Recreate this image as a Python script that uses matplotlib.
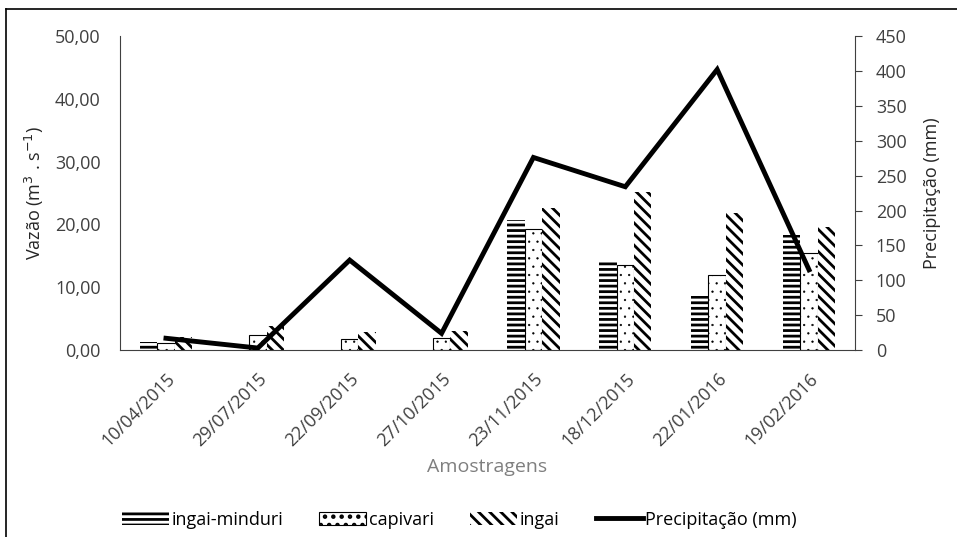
import numpy as np
import matplotlib
matplotlib.use("Agg")
from matplotlib import pyplot as plt
from matplotlib.lines import Line2D

datas = ['10/04/2015', '29/07/2015', '22/09/2015', '27/10/2015',
         '23/11/2015', '18/12/2015', '22/01/2016', '19/02/2016']
ingai_minduri = [1.3, 0.1, 0.2, 0.2, 20.7, 14.2, 8.6, 18.3]
capivari = [1.1, 2.4, 1.8, 2.0, 19.3, 13.6, 12.0, 15.5]
ingai = [2.1, 3.8, 2.9, 3.1, 22.6, 25.2, 21.8, 19.6]
precipitacao = [17, 3, 129, 24, 276, 234, 402, 115]

plt.rcParams['font.family'] = ['Open Sans', 'DejaVu Sans']
plt.rcParams['font.size'] = 13

fig = plt.figure(figsize=(9.57, 5.37), dpi=100)
ax = fig.add_axes([0.1254, 0.348, 0.768, 0.585])
ax2 = ax.twinx()

estilos = {
    'ingai-minduri': dict(hatch='---', linewidth=0, hlw=2.0),
    'capivari': dict(hatch='..', linewidth=0.8, hlw=0.4),
    'ingai': dict(hatch='\\\\\\', linewidth=0, hlw=2.0),
}

x = np.arange(len(datas))
w = 0.19
series = [('ingai-minduri', ingai_minduri, -w), ('capivari', capivari, 0), ('ingai', ingai, w)]
handles = []
for nome, vals, off in series:
    st = estilos[nome]
    with plt.rc_context({'hatch.linewidth': st['hlw']}):
        ax.bar(x + off, vals, w, color='white', edgecolor='black',
               hatch=st['hatch'], linewidth=st['linewidth'])
        handles.append(plt.Rectangle((0, 0), 1, 1, facecolor='white', edgecolor='black',
                                     hatch=st['hatch'], linewidth=st['linewidth']))
ax2.plot(x, precipitacao, color='black', linewidth=3.5, solid_joinstyle='miter')
handles.append(Line2D([0], [0], color='black', linewidth=3.5))

ax.set_xlim(-0.5, 7.5)
ax.set_ylim(0, 50)
ax2.set_ylim(0, 450)
ax.set_yticks(np.arange(0, 51, 10))
ax.set_yticklabels([('%.2f' % v).replace('.', ',') for v in np.arange(0, 51, 10)])
ax2.set_yticks(np.arange(0, 451, 50))
ax.set_xticks(x)
ax.set_xticklabels(datas, rotation=45, ha='right', rotation_mode='anchor')
ax.tick_params(axis='x', length=0, pad=14, labelcolor='#404040')
ax.tick_params(axis='y', length=0, labelcolor='#404040', pad=14)
ax2.tick_params(axis='y', length=5, direction='out', labelcolor='#404040', color='#404040', pad=10)

for a in (ax, ax2):
    a.spines['top'].set_visible(False)
ax.spines['right'].set_visible(False)
ax2.spines['left'].set_visible(False)
ax2.spines['bottom'].set_visible(False)
for s in ('left', 'bottom'):
    ax.spines[s].set_color('#404040')
ax2.spines['right'].set_color('#404040')

ax.set_ylabel('Vazão (m$^3$ . s$^{-1}$)', fontsize=13, color='#262626', labelpad=6)
ax2.set_ylabel('Precipitação (mm)', fontsize=13, color='#262626', labelpad=12)
ax.set_xlabel('Amostragens', fontsize=14, color='#7f7f7f')
ax.xaxis.set_label_coords(0.5, -0.344)

with plt.rc_context({'hatch.linewidth': 2.0}):
    fig.legend(handles, ['ingai-minduri', 'capivari', 'ingai', 'Precipitação (mm)'],
               loc='center', bbox_to_anchor=(0.48, 0.032), ncol=4, frameon=False,
               fontsize=13, handlelength=2.6, handletextpad=0.15, columnspacing=2.0)

fig.add_artist(Line2D([0.0065, 0.0065], [0, 0.983], color='black', linewidth=1.2))
fig.add_artist(Line2D([0.0065, 1], [0.983, 0.983], color='black', linewidth=1.2))

fig.savefig('out.png', dpi=100)
